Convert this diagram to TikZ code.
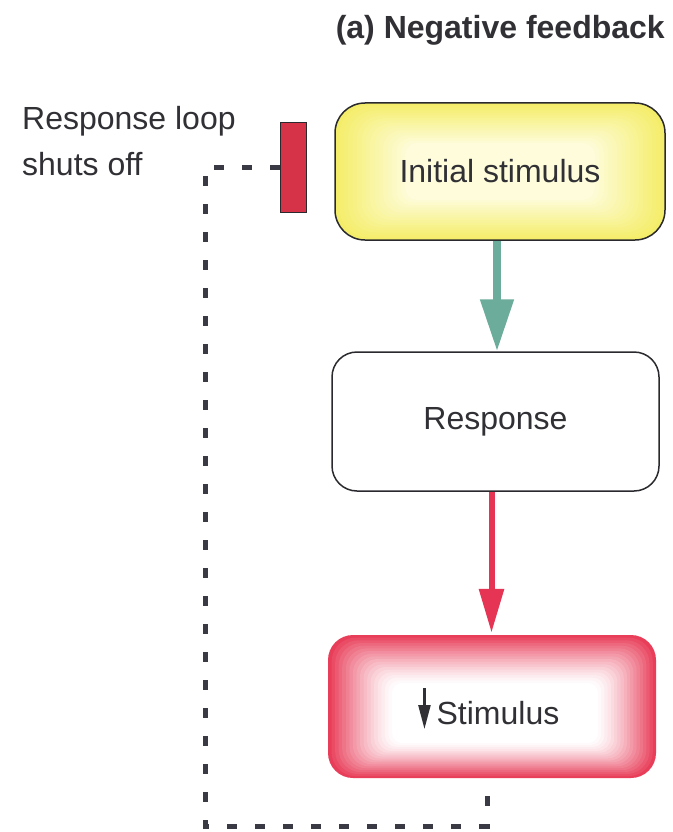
\documentclass[tikz,border=0pt]{standalone}
\usepackage{fontspec}
\setmainfont{Liberation Sans}
\usetikzlibrary{arrows.meta,calc}
\definecolor{txt}{HTML}{303035}
\definecolor{edge}{HTML}{2A2A2E}
\definecolor{ycol}{RGB}{244,237,105}
\definecolor{ywhite}{RGB}{254,252,218}
\definecolor{stimred}{RGB}{232,62,90}
\definecolor{barred}{RGB}{214,50,72}
\definecolor{arrgreen}{RGB}{108,172,155}
\definecolor{arrred}{RGB}{230,52,85}
\definecolor{loopc}{HTML}{3A3A44}
\tikzset{
  labeltext/.style={font=\fontsize{32}{37}\selectfont, text=txt, inner sep=0pt},
  boxnode/.style={labeltext, line width=1.5pt, draw=edge},
  loopline/.style={draw=loopc, line width=5pt, dash pattern=on 10pt off 18pt},
}
\begin{document}
\begin{tikzpicture}[x=1pt,y=-1pt]
\useasboundingbox[fill=white] (0,0) rectangle (672,832);

% title
\node[font=\bfseries\fontsize{32}{36}\selectfont, text=txt, anchor=east, inner sep=0pt] (title) at (665,30) {(a) Negative feedback};

% yellow glow layers
\foreach \i in {0,...,16}{
  \pgfmathsetmacro\t{\i/16}
  \pgfmathsetmacro\xa{335+(405-335)*\t}
  \pgfmathsetmacro\ya{103+(143-103)*\t}
  \pgfmathsetmacro\xb{665-(665-595)*\t}
  \pgfmathsetmacro\yb{240-(240-200)*\t}
  \pgfmathsetmacro\pc{100*(1-\t)}
  \pgfmathsetmacro\rc{30-18*\t}
  \fill[ycol!\pc!ywhite, rounded corners=\rc pt] (\xa,\ya) rectangle (\xb,\yb);
}
\node[boxnode, rounded corners=30pt, minimum width=330pt, minimum height=137pt] (init) at (500,171.5) {Initial stimulus};

% response box
\node[boxnode, fill=white, rounded corners=25pt, minimum width=327pt, minimum height=139pt] (resp) at (495.5,421.5) {Response};

% stimulus glow layers
\foreach \i in {0,...,18}{
  \pgfmathsetmacro\t{\i/18}
  \pgfmathsetmacro\xa{328+(392-328)*\t}
  \pgfmathsetmacro\ya{635+(683-635)*\t}
  \pgfmathsetmacro\xb{656-(656-598)*\t}
  \pgfmathsetmacro\yb{778-(778-743)*\t}
  \pgfmathsetmacro\pc{100*(1-\t)^1.3}
  \pgfmathsetmacro\rc{25-15*\t}
  \fill[stimred!\pc!white, rounded corners=\rc pt] (\xa,\ya) rectangle (\xb,\yb);
}
\fill[white, rounded corners=8pt] (396,686) rectangle (594,740);
\node[inner sep=0pt, minimum width=328pt, minimum height=143pt] (stim) at (492,706.5) {};
\node[labeltext] (stimlabel) at (498,713) {Stimulus};
\draw[draw=txt, fill=txt, line width=2.4pt, -{Triangle[width=12pt,length=24pt]}]
  ($(stimlabel.west)+(-12,-25)$) -- ($(stimlabel.west)+(-12,16)$);

% arrows
\draw[draw=arrgreen, fill=arrgreen, line width=8pt, -{Triangle[width=32pt,length=52pt]}]
  ($(init.south)+(-3,0)$) -- ($(init.south |- resp.north)+(-3,0)$);
\draw[draw=arrred, fill=arrred, line width=6pt, -{Triangle[width=24pt,length=44pt]}]
  ($(resp.south)+(-4,0)$) -- ($(resp.south |- stim.north)+(-4,-2)$);

% red bar
\node[draw=edge, line width=0.8pt, fill=barred, minimum width=26pt, minimum height=90pt, inner sep=0pt] (bar) at (293,167) {};

% label
\node[labeltext, anchor=base west] (lbl1) at (22,129) {Response loop};
\node[labeltext, anchor=base west] (lbl2) at (22,175) {shuts off};

% dashed loop
\coordinate (c2) at (205,826);
\coordinate (c3) at (487,826);
\coordinate (c4) at (487,784);
\draw[loopline] (bar.west) -| (c2) -- (c3) -- (c4);
\end{tikzpicture}
\end{document}
